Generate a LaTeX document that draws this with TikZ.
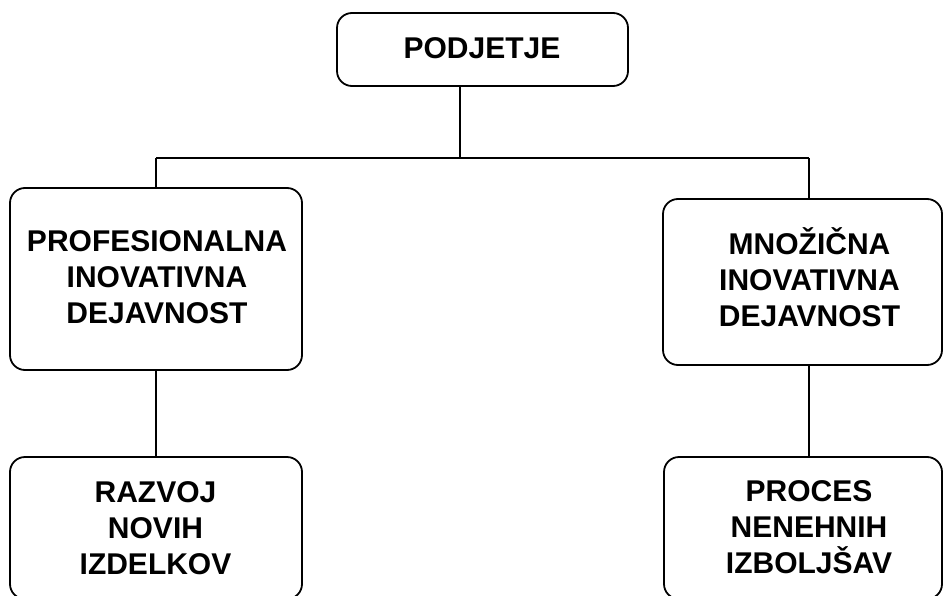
\documentclass[tikz,border=0pt]{standalone}
\usepackage{fontspec}
\setmainfont{Liberation Sans}
\begin{document}
\begin{tikzpicture}[x=1pt,y=-1pt,
  box/.style={draw, line width=1.8pt, rounded corners=15pt, inner sep=0pt},
  lbl/.style={font=\fontsize{30}{36}\selectfont\bfseries, align=center, inner sep=0pt},
  conn/.style={line width=1.8pt}]
\useasboundingbox (0,0) rectangle (944,596);
\clip (0,0) rectangle (944,596);
% boxes
\node[box, minimum width=291pt, minimum height=73pt]  (top)   at (482.5,49.5) {};
\node[box, minimum width=292pt, minimum height=182pt] (left)  at (156,279) {};
\node[box, minimum width=279pt, minimum height=166pt] (right) at (802.5,282) {};
\node[box, minimum width=292pt, minimum height=142pt] (bl)    at (156,528) {};
\node[box, minimum width=278pt, minimum height=142pt] (br)    at (803,528) {};
% labels
\node[lbl] (topt)   at (482,47.8)  {PODJETJE};
\node[lbl] (leftt)  at (157,277)   {PROFESIONALNA\\INOVATIVNA\\DEJAVNOST};
\node[lbl] (rightt) at (809.5,277.2) {MNOŽIČNA\\INOVATIVNA\\DEJAVNOST};
\node[lbl] (blt)    at (155.5,528) {RAZVOJ\\NOVIH\\IZDELKOV};
\node[lbl] (brt)    at (809,527.5) {PROCES\\NENEHNIH\\IZBOLJŠAV};
% connectors
\coordinate (jl) at (156,158);
\coordinate (jc) at (460,158);
\coordinate (jr) at (809,158);
\draw[conn] (top.south -| jc) -- (jc);
\draw[conn] (jl) -- (jr);
\draw[conn] (jl) -- (left.north);
\draw[conn] (jr) -- (right.north -| jr);
\draw[conn] (left.south) -- (bl.north);
\draw[conn] (right.south -| jr) -- (br.north -| jr);
\end{tikzpicture}
\end{document}
